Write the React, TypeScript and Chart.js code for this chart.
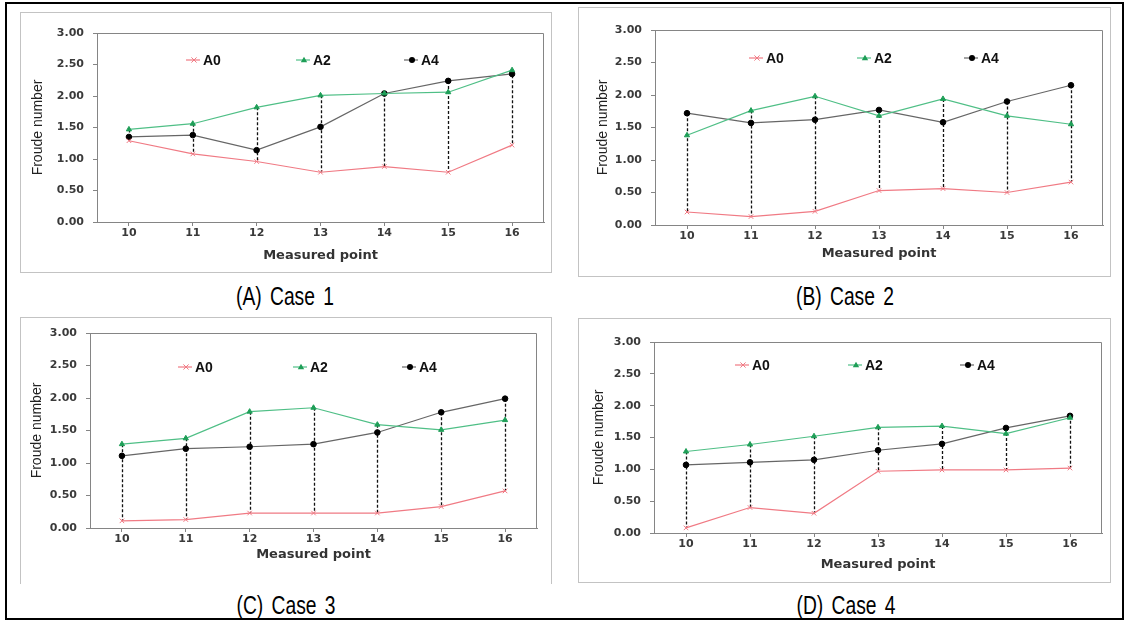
import React, { useEffect, useRef } from 'react';
import { Chart, registerables } from 'chart.js';

Chart.register(...registerables);

// ---------------- data ----------------
const measuredPoints = ['10', '11', '12', '13', '14', '15', '16'];
const seriesNames = ['A0', 'A2', 'A4'];
const yTickValues = [0, 0.5, 1, 1.5, 2, 2.5, 3];
const caseTitles = ['(A) Case 1', '(B) Case 2', '(C) Case 3', '(D) Case 4'];

const case1A0 = [1.29, 1.08, 0.96, 0.79, 0.88, 0.79, 1.22];
const case1A2 = [1.47, 1.56, 1.82, 2.01, 2.04, 2.06, 2.41];
const case1A4 = [1.35, 1.38, 1.14, 1.51, 2.04, 2.24, 2.35];

const case2A0 = [0.2, 0.13, 0.21, 0.53, 0.56, 0.5, 0.66];
const case2A2 = [1.38, 1.76, 1.98, 1.68, 1.94, 1.68, 1.55];
const case2A4 = [1.72, 1.57, 1.62, 1.77, 1.58, 1.9, 2.15];

const case3A0 = [0.11, 0.13, 0.23, 0.23, 0.23, 0.33, 0.57];
const case3A2 = [1.29, 1.38, 1.79, 1.85, 1.59, 1.51, 1.66];
const case3A4 = [1.11, 1.22, 1.25, 1.29, 1.47, 1.78, 1.99];

const case4A0 = [0.08, 0.4, 0.31, 0.97, 0.99, 0.99, 1.02];
const case4A2 = [1.28, 1.39, 1.52, 1.66, 1.68, 1.56, 1.81];
const case4A4 = [1.07, 1.11, 1.15, 1.3, 1.4, 1.65, 1.84];

const caseSeries = [
  [case1A0, case1A2, case1A4],
  [case2A0, case2A2, case2A4],
  [case3A0, case3A2, case3A4],
  [case4A0, case4A2, case4A4],
];

// ---------------- styles ----------------
const seriesStyles = [
  { line: '#f07a84', fill: '#f07a84', point: 'crossRot', radius: 3.2 },
  { line: '#4fbf86', fill: '#1e9e57', point: 'triangle', radius: 3 },
  { line: '#666666', fill: '#000000', point: 'circle', radius: 2.8 },
];

// ---------------- layout (page pixels) ----------------
const layouts = [
  { box: { l: 20, t: 12, r: 552, b: 273 }, plot: { l: 97, t: 33, r: 544, b: 222 }, yTitleX: 38, xTitleY: 256, legendY: 60, legendOffsets: [89, 199, 307], cap: { x: 285, y: 296 }, bottomBorder: true },
  { box: { l: 578, t: 7, r: 1111, b: 277 }, plot: { l: 655, t: 30, r: 1103, b: 225 }, yTitleX: 603, xTitleY: 254, legendY: 58, legendOffsets: [94, 202, 309], cap: { x: 845, y: 296 }, bottomBorder: true },
  { box: { l: 20, t: 317, r: 552, b: 584 }, plot: { l: 90, t: 333, r: 537, b: 528 }, yTitleX: 37, xTitleY: 555, legendY: 367, legendOffsets: [88, 203, 312], cap: { x: 286, y: 605 }, bottomBorder: false },
  { box: { l: 578, t: 318, r: 1111, b: 583 }, plot: { l: 654, t: 342, r: 1102, b: 533 }, yTitleX: 599, xTitleY: 565, legendY: 365, legendOffsets: [81, 194, 306], cap: { x: 846, y: 605 }, bottomBorder: true },
];

function drawMarker(ctx: CanvasRenderingContext2D, kind: string, x: number, y: number, color: string) {
  ctx.save();
  ctx.fillStyle = color;
  ctx.strokeStyle = color;
  ctx.lineWidth = 1;
  ctx.setLineDash([]);
  if (kind === 'crossRot') {
    const r = 2.6;
    ctx.beginPath();
    ctx.moveTo(x - r, y - r); ctx.lineTo(x + r, y + r);
    ctx.moveTo(x - r, y + r); ctx.lineTo(x + r, y - r);
    ctx.stroke();
  } else if (kind === 'triangle') {
    const r = 3.2;
    ctx.beginPath();
    ctx.moveTo(x, y - r);
    ctx.lineTo(x + r, y + r * 0.7);
    ctx.lineTo(x - r, y + r * 0.7);
    ctx.closePath();
    ctx.fill();
  } else {
    ctx.beginPath();
    ctx.arc(x, y, 3, 0, Math.PI * 2);
    ctx.fill();
  }
  ctx.restore();
}

const excelPlugin = {
  id: 'excelStyle',
  beforeDatasetsDraw(chart: any) {
    const { ctx, chartArea: ca } = chart;
    ctx.save();
    // top and right frame of plot area
    ctx.strokeStyle = '#858585';
    ctx.lineWidth = 1;
    ctx.beginPath();
    ctx.moveTo(ca.left, ca.top + 0.5);
    ctx.lineTo(ca.right - 0.5, ca.top + 0.5);
    ctx.lineTo(ca.right - 0.5, ca.bottom);
    ctx.stroke();
    // high-low lines
    const metas = chart.data.datasets.map((_: any, i: number) => chart.getDatasetMeta(i));
    const n = chart.data.labels.length;
    ctx.strokeStyle = '#111';
    ctx.lineWidth = 1.3;
    ctx.setLineDash([3, 2]);
    for (let i = 0; i < n; i++) {
      const ys = metas.map((m: any) => m.data[i].y);
      const x = Math.round(metas[0].data[i].x) + 0.5;
      ctx.beginPath();
      ctx.moveTo(x, Math.min(...ys));
      ctx.lineTo(x, Math.max(...ys));
      ctx.stroke();
    }
    ctx.restore();
  },
  afterDatasetsDraw(chart: any, _args: any, opts: any) {
    const { ctx, chartArea: ca } = chart;
    ctx.save();
    ctx.font = 'bold 14px "Liberation Sans", Arial, sans-serif';
    ctx.textBaseline = 'middle';
    ctx.textAlign = 'left';
    seriesNames.forEach((name, i) => {
      const st = seriesStyles[i];
      const x0 = ca.left + opts.legendOffsets[i];
      const y = opts.legendY;
      ctx.strokeStyle = st.line;
      ctx.lineWidth = 1.2;
      ctx.setLineDash([]);
      ctx.beginPath();
      ctx.moveTo(x0, y);
      ctx.lineTo(x0 + 14, y);
      ctx.stroke();
      drawMarker(ctx, st.point, x0 + 8, y, st.fill);
      ctx.fillStyle = '#111';
      ctx.fillText(name, x0 + 17, y + 1);
    });
    ctx.restore();
  },
};

const tickFont = { family: '"DejaVu Sans", sans-serif', size: 11, weight: 'bold' as const };

function Panel({ index }: { index: number }) {
  const ref = useRef<HTMLCanvasElement | null>(null);
  const L = layouts[index];
  const w = L.box.r - L.box.l;
  const h = L.box.b - L.box.t;

  useEffect(() => {
    if (!ref.current) return;
    const values = caseSeries[index];
    const chart = new Chart(ref.current, {
      type: 'line',
      data: {
        labels: measuredPoints,
        datasets: seriesNames.map((name, i) => ({
          label: name,
          data: values[i],
          borderColor: seriesStyles[i].line,
          backgroundColor: seriesStyles[i].fill,
          pointBackgroundColor: seriesStyles[i].fill,
          pointBorderColor: seriesStyles[i].fill,
          pointStyle: seriesStyles[i].point as any,
          pointRadius: seriesStyles[i].radius,
          pointBorderWidth: 1,
          borderWidth: 1.2,
          tension: 0,
          fill: false,
        })),
      },
      options: {
        responsive: false,
        animation: false,
        devicePixelRatio: 1,
        layout: {
          padding: { left: 0, bottom: 0, top: L.plot.t - L.box.t, right: L.box.r - L.plot.r },
        },
        plugins: {
          legend: { display: false },
          tooltip: { enabled: false },
          excelStyle: {
            legendOffsets: L.legendOffsets,
            legendY: L.legendY - L.box.t,
          },
        } as any,
        scales: {
          x: {
            type: 'category',
            offset: true,
            grid: { display: true, drawOnChartArea: false, drawTicks: true, tickLength: 4, color: '#858585' },
            border: { display: true, color: '#858585', width: 1 },
            ticks: { font: tickFont, color: '#3a3a3a', padding: 1, maxRotation: 0, autoSkip: false },
            title: {
              display: true,
              text: 'Measured point',
              color: '#333',
              font: { family: '"DejaVu Sans", sans-serif', size: 13, weight: 'bold', lineHeight: 1.2 },
              padding: { top: 0, bottom: (L.box.b - L.xTitleY) - 7.8 },
            },
            afterFit: (s: any) => { s.height = L.box.b - L.plot.b; },
          },
          y: {
            type: 'linear',
            min: 0,
            max: 3,
            grid: { display: true, drawOnChartArea: false, drawTicks: true, tickLength: 4, color: '#858585' },
            border: { display: true, color: '#858585', width: 1 },
            afterBuildTicks: (s: any) => { s.ticks = yTickValues.map((v) => ({ value: v })); },
            ticks: {
              font: tickFont,
              color: '#3a3a3a',
              padding: 9,
              callback: (v: any) => Number(v).toFixed(2),
            },
            title: {
              display: true,
              text: 'Froude number',
              color: '#222',
              font: { family: '"Liberation Sans", Arial, sans-serif', size: 14, weight: 'normal', lineHeight: 1.2 },
              padding: { top: (L.yTitleX - L.box.l) - 8.4, bottom: 0 },
            },
            afterFit: (s: any) => { s.width = L.plot.l - L.box.l; },
          },
        },
      } as any,
      plugins: [excelPlugin as any],
    });
    return () => chart.destroy();
  }, [index]);

  return (
    <>
      <canvas
        ref={ref}
        width={w}
        height={h}
        style={{ position: 'absolute', left: L.box.l, top: L.box.t, width: w, height: h }}
      />
      <div
        style={{
          position: 'absolute',
          left: L.box.l,
          top: L.box.t,
          width: w,
          height: h,
          boxSizing: 'border-box',
          borderTop: '1px solid #c3c3c3',
          borderLeft: '1px solid #c3c3c3',
          borderRight: '1px solid #c3c3c3',
          borderBottom: L.bottomBorder ? '1px solid #c3c3c3' : 'none',
          pointerEvents: 'none',
        }}
      />
      <div
        style={{
          position: 'absolute',
          left: L.cap.x - 100,
          top: L.cap.y - 12.7,
          width: 200,
          textAlign: 'center',
          fontFamily: '"Liberation Sans", Arial, sans-serif',
          fontSize: 26,
          lineHeight: '26px',
          wordSpacing: 4,
          color: '#000',
          transform: 'scaleX(0.74)',
          transformOrigin: 'center',
          whiteSpace: 'nowrap',
        }}
      >
        {caseTitles[index]}
      </div>
    </>
  );
}

export default function App() {
  return (
    <div style={{ position: 'absolute', left: 0, top: 0, width: 1125, height: 621, background: '#fff', overflow: 'hidden' }}>
      <div
        style={{
          position: 'absolute',
          left: 5,
          top: 2,
          width: 1119,
          height: 618,
          boxSizing: 'border-box',
          border: '2px solid #000',
        }}
      />
      {layouts.map((_, i) => (
        <Panel key={i} index={i} />
      ))}
    </div>
  );
}
